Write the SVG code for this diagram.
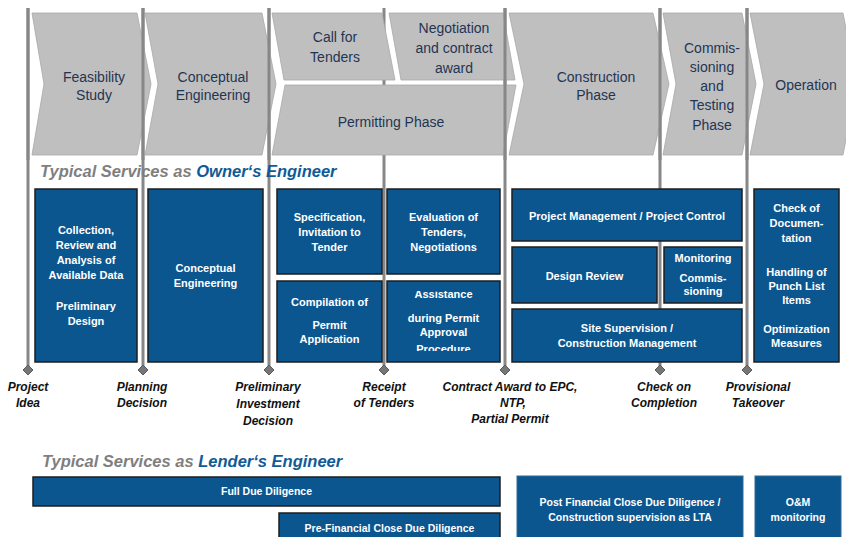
<svg xmlns="http://www.w3.org/2000/svg" width="846" height="537" viewBox="0 0 846 537">
<defs>
<style>
.chev{fill:#bfbfbf;stroke:#a8a8a8;stroke-width:0.8}
.ct{font-family:"Liberation Sans",Arial,sans-serif;font-size:14px;fill:#1f3553;text-anchor:middle}
.vl{stroke:#878787;stroke-width:3;fill:none}
.dm{fill:#767676;stroke:#5c5c5c;stroke-width:1}
.box{fill:#0c568f;stroke:#1e1e1e;stroke-width:1.5}
.lbox{fill:#0c568f;stroke:#2f6a98;stroke-width:1}
.bt{font-family:"Liberation Sans",Arial,sans-serif;font-size:11px;font-weight:bold;fill:#ffffff;text-anchor:middle}
.lt{font-family:"Liberation Sans",Arial,sans-serif;font-size:10.5px;font-weight:bold;fill:#ffffff;text-anchor:middle}
.ms{font-family:"Liberation Sans",Arial,sans-serif;font-size:12px;font-weight:bold;font-style:italic;fill:#111111;text-anchor:middle}
.hd{font-family:"Liberation Sans",Arial,sans-serif;font-size:16.5px;font-weight:bold;font-style:italic;fill:#7f7f7f}
.hb{fill:#0f5b98}
</style>
<clipPath id="clipAssist"><rect x="387" y="291" width="113" height="60"/></clipPath>
</defs>
<rect width="846" height="537" fill="#ffffff"/>

<!-- Milestone lines (behind the call-for-tenders/permitting block) -->
<g id="milestone-lines">
<line class="vl" x1="28" y1="8" x2="28" y2="367"/>
<line class="vl" x1="143" y1="8" x2="143" y2="367"/>
<line class="vl" x1="269" y1="8" x2="269" y2="367"/>
<line class="vl" x1="384" y1="8" x2="384" y2="367"/>
<line class="vl" x1="505" y1="8" x2="505" y2="367"/>
<line class="vl" x1="660" y1="8" x2="660" y2="367"/>
<line class="vl" x1="747" y1="8" x2="747" y2="367"/>
<polygon class="dm" points="28,365 33,370 28,375 23,370"/>
<polygon class="dm" points="143,365 148,370 143,375 138,370"/>
<polygon class="dm" points="269,365 274,370 269,375 264,370"/>
<polygon class="dm" points="384,365 389,370 384,375 379,370"/>
<polygon class="dm" points="505,365 510,370 505,375 500,370"/>
<polygon class="dm" points="660,365 665,370 660,375 655,370"/>
<polygon class="dm" points="747,365 752,370 747,375 742,370"/>
</g>

<!-- Phase chevrons -->
<g id="phase-call-for-tenders">
<polygon class="chev" points="272,13 382,13 395,80 284,80"/>
<text class="ct" x="335" y="42">Call for</text>
<text class="ct" x="335" y="62">Tenders</text>
</g>
<g id="phase-negotiation">
<polygon class="chev" points="389,13 503,13 515,80 401,80"/>
<text class="ct" x="454" y="33">Negotiation</text>
<text class="ct" x="454" y="53">and contract</text>
<text class="ct" x="454" y="73">award</text>
</g>
<g id="phase-permitting">
<polygon class="chev" points="285,85 516,85 503,155 272,155"/>
<text class="ct" x="391" y="127">Permitting Phase</text>
</g>
<g id="phase-feasibility">
<polygon class="chev" points="32,13 137,13 151,84 137,155 32,155 44,84"/>
<text class="ct" x="94" y="82">Feasibility</text>
<text class="ct" x="94" y="100">Study</text>
</g>
<g id="phase-conceptual">
<polygon class="chev" points="145,13 262,13 276,84 262,155 145,155 158,84"/>
<text class="ct" x="213" y="82">Conceptual</text>
<text class="ct" x="213" y="100">Engineering</text>
</g>
<g id="phase-construction">
<polygon class="chev" points="509,13 653,13 669,84 653,155 509,155 524,84"/>
<text class="ct" x="596" y="82">Construction</text>
<text class="ct" x="596" y="100">Phase</text>
</g>
<g id="phase-commissioning">
<polygon class="chev" points="663,13 742,13 756,84 742,155 663,155 676,84"/>
<text class="ct" x="712" y="53">Commis-</text>
<text class="ct" x="712" y="72">sioning</text>
<text class="ct" x="712" y="91">and</text>
<text class="ct" x="712" y="110">Testing</text>
<text class="ct" x="712" y="130">Phase</text>
</g>
<g id="phase-operation">
<polygon class="chev" points="750,13 843,13 857,84 843,155 750,155 764,84"/>
<text class="ct" x="806" y="90">Operation</text>
</g>

<!-- Lines that stay visible in front of the chevrons -->
<g id="milestone-lines-front">
<line class="vl" x1="28" y1="8" x2="28" y2="160"/>
<line class="vl" x1="143" y1="8" x2="143" y2="160"/>
<line class="vl" x1="269" y1="8" x2="269" y2="160"/>
<line class="vl" x1="505" y1="8" x2="505" y2="160"/>
<line class="vl" x1="660" y1="8" x2="660" y2="160"/>
<line class="vl" x1="747" y1="8" x2="747" y2="160"/>
</g>

<!-- Owner's Engineer heading -->
<g id="heading-owner">
<text class="hd" x="40" y="177">Typical Services as <tspan class="hb">Owner‘s Engineer</tspan></text>
</g>

<!-- Owner's Engineer services -->
<g id="svc-collection">
<rect class="box" x="35" y="189" width="102" height="173"/>
<text class="bt" x="86" y="234">Collection,</text>
<text class="bt" x="86" y="249">Review and</text>
<text class="bt" x="86" y="264">Analysis of</text>
<text class="bt" x="86" y="279">Available Data</text>
<text class="bt" x="86" y="310">Preliminary</text>
<text class="bt" x="86" y="325">Design</text>
</g>
<g id="svc-conceptual">
<rect class="box" x="148" y="189" width="115" height="173"/>
<text class="bt" x="205.5" y="272">Conceptual</text>
<text class="bt" x="205.5" y="287">Engineering</text>
</g>
<g id="svc-specification">
<rect class="box" x="277" y="189" width="105" height="85"/>
<text class="bt" x="329.5" y="221">Specification,</text>
<text class="bt" x="329.5" y="236">Invitation to</text>
<text class="bt" x="329.5" y="251">Tender</text>
</g>
<g id="svc-evaluation">
<rect class="box" x="387" y="189" width="113" height="85"/>
<text class="bt" x="443.5" y="221">Evaluation of</text>
<text class="bt" x="443.5" y="236">Tenders,</text>
<text class="bt" x="443.5" y="251">Negotiations</text>
</g>
<g id="svc-compilation">
<rect class="box" x="277" y="281" width="105" height="81"/>
<text class="bt" x="329.5" y="306">Compilation of</text>
<text class="bt" x="329.5" y="329">Permit</text>
<text class="bt" x="329.5" y="343">Application</text>
</g>
<g id="svc-assistance">
<rect class="box" x="387" y="281" width="113" height="81"/>
<g clip-path="url(#clipAssist)">
<text class="bt" x="443.5" y="298">Assistance</text>
<text class="bt" x="443.5" y="322">during Permit</text>
<text class="bt" x="443.5" y="336">Approval</text>
<text class="bt" x="443.5" y="353">Procedure</text>
</g>
</g>
<g id="svc-project-management">
<rect class="box" x="512" y="189" width="230" height="52"/>
<text class="bt" x="627" y="220">Project Management / Project Control</text>
</g>
<g id="svc-design-review">
<rect class="box" x="512" y="247" width="145" height="56"/>
<text class="bt" x="584.5" y="280">Design Review</text>
</g>
<g id="svc-monitoring">
<rect class="box" x="664" y="247" width="78" height="56"/>
<text class="bt" x="703" y="262">Monitoring</text>
<text class="bt" x="703" y="282">Commis-</text>
<text class="bt" x="703" y="295">sioning</text>
</g>
<g id="svc-site-supervision">
<rect class="box" x="512" y="309" width="230" height="53"/>
<text class="bt" x="627" y="332">Site Supervision /</text>
<text class="bt" x="627" y="347">Construction Management</text>
</g>
<g id="svc-operation">
<rect class="box" x="754" y="189" width="85" height="173"/>
<text class="bt" x="796.5" y="212">Check of</text>
<text class="bt" x="796.5" y="227">Documen-</text>
<text class="bt" x="796.5" y="242">tation</text>
<text class="bt" x="796.5" y="276">Handling of</text>
<text class="bt" x="796.5" y="290">Punch List</text>
<text class="bt" x="796.5" y="304">Items</text>
<text class="bt" x="796.5" y="333">Optimization</text>
<text class="bt" x="796.5" y="347">Measures</text>
</g>

<!-- Milestone labels -->
<g id="ms-project-idea">
<text class="ms" x="28" y="391">Project</text>
<text class="ms" x="28" y="407">Idea</text>
</g>
<g id="ms-planning">
<text class="ms" x="142" y="391">Planning</text>
<text class="ms" x="142" y="407">Decision</text>
</g>
<g id="ms-preliminary">
<text class="ms" x="268" y="391">Preliminary</text>
<text class="ms" x="268" y="408">Investment</text>
<text class="ms" x="268" y="425">Decision</text>
</g>
<g id="ms-receipt">
<text class="ms" x="384" y="391">Receipt</text>
<text class="ms" x="384" y="407">of Tenders</text>
</g>
<g id="ms-contract">
<text class="ms" x="510" y="391">Contract Award to EPC,</text>
<text class="ms" x="513" y="407">NTP,</text>
<text class="ms" x="510" y="423">Partial Permit</text>
</g>
<g id="ms-check">
<text class="ms" x="664" y="391">Check on</text>
<text class="ms" x="664" y="407">Completion</text>
</g>
<g id="ms-provisional">
<text class="ms" x="758" y="391">Provisional</text>
<text class="ms" x="758" y="407">Takeover</text>
</g>

<!-- Lender's Engineer -->
<g id="heading-lender">
<text class="hd" x="42" y="467">Typical Services as <tspan class="hb">Lender‘s Engineer</tspan></text>
</g>
<g id="le-full-dd">
<rect class="box" x="33" y="477" width="467" height="29"/>
<text class="lt" x="266.5" y="495">Full Due Diligence</text>
</g>
<g id="le-pre-fc-dd">
<rect class="box" x="279" y="513" width="221" height="30"/>
<text class="lt" x="389.5" y="532">Pre-Financial Close Due Diligence</text>
</g>
<g id="le-post-fc-dd">
<rect class="lbox" x="517" y="476" width="226" height="66"/>
<text class="lt" x="630" y="506">Post Financial Close Due Diligence /</text>
<text class="lt" x="630" y="521">Construction supervision as LTA</text>
</g>
<g id="le-om">
<rect class="lbox" x="755" y="476" width="86" height="66"/>
<text class="lt" x="798" y="506">O&amp;M</text>
<text class="lt" x="798" y="521">monitoring</text>
</g>
</svg>
